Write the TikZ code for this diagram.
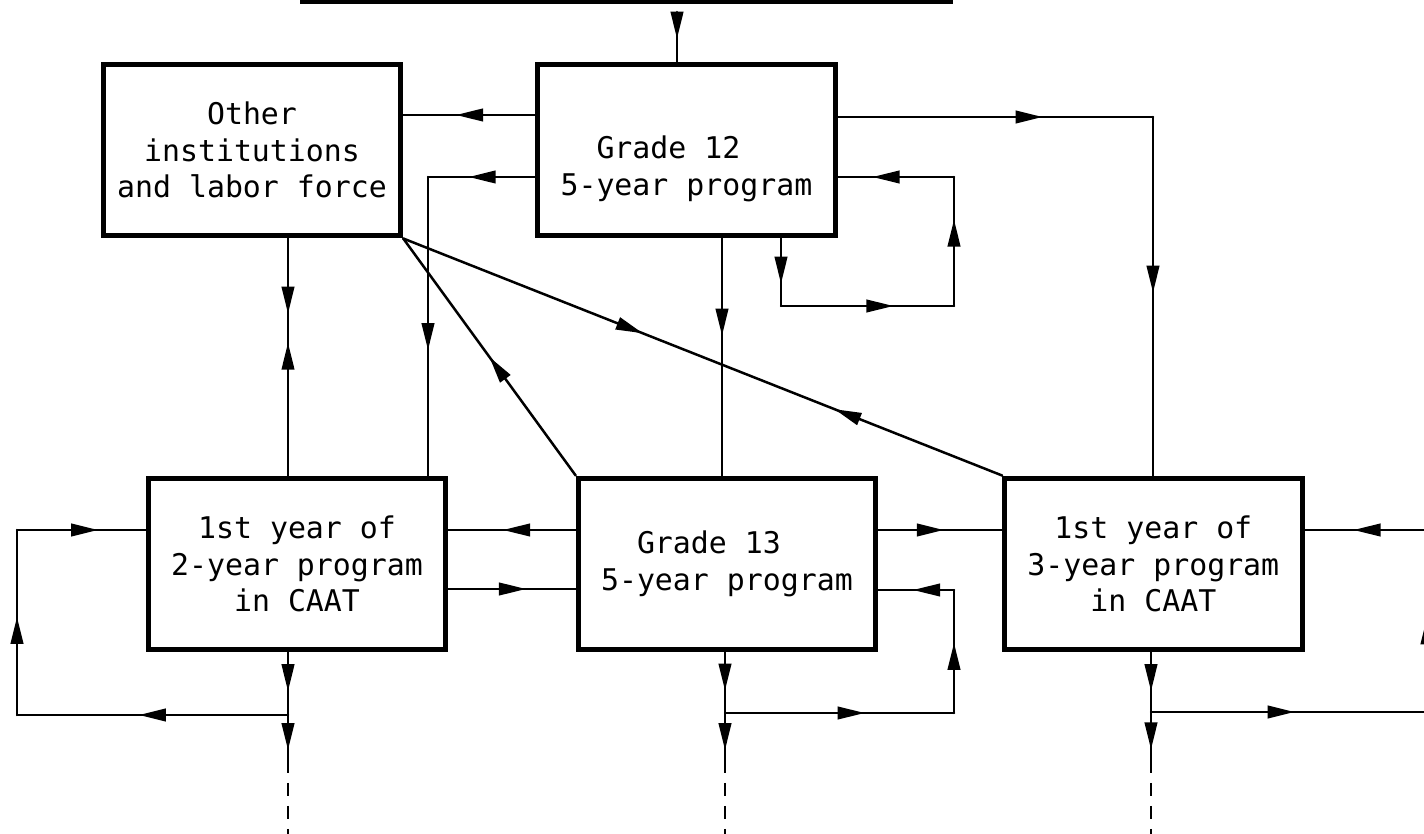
\documentclass[tikz,border=0pt]{standalone}
\usepackage{fontspec}
\setmonofont{DejaVu Sans Mono}
\usetikzlibrary{positioning,arrows.meta,decorations.markings,calc}

\begin{document}
\begin{tikzpicture}[
      x=0.02cm, y=-0.02cm,
      >={Triangle[length=0.54cm,width=0.25cm]},
      box/.style={draw,line width=0.1cm,minimum width=5.95cm,minimum height=3.44cm,inner sep=0pt,align=center,font=\ttfamily\fontsize{17}{20.8}\selectfont},
      flow/.style={line width=0.05cm,line cap=round,line join=round},
      arrowat/.style={postaction={decorate,decoration={markings,mark=at position #1 with {\arrow{>}}}}},
      cont/.style={line width=0.05cm,dash pattern=on 0.26cm off 0.2cm}
    ]
      \useasboundingbox (0,0) rectangle (1424,834);
      \node[box] (two) at (297,564) {1st year of\\2-year program\\in CAAT};
      \node[box,right=2.55cm of two] (g13) {Grade 13\hphantom{00}\\5-year program};
      \node[box,right=2.48cm of g13] (three) {1st year of\\3-year program\\in CAAT};
      \node[box] (other) at (252,150) {Other\\institutions\\and labor force};
      \node[box,right=2.64cm of other] (g12) {\rule{0pt}{1.2cm}Grade 12\hphantom{00}\\5-year program};

      \coordinate (barl) at (300,2);
      \coordinate (barr) at (953,2);
      \draw[line width=0.08cm] (barl) -- (barr);
      \coordinate (topin) at (677,12);
      \draw[flow,arrowat=0.54] (topin) -- (topin |- g12.north);

      \draw[flow,arrowat=0.6] (g12.west |- 0,115) -- (other.east |- 0,115);
      \coordinate (g12lo) at (428,177);
      \draw[flow,arrowat=0.62] (g12.west |- g12lo) -- (g12lo);
      \draw[flow,arrowat=0.58] (g12lo) -- (g12lo |- two.north);
      \coordinate (g12ro) at (1153,117);
      \draw[flow,arrowat=0.65] (g12.east |- g12ro) -- (g12ro);
      \draw[flow,arrowat=0.49] (g12ro) -- (g12ro |- three.north);

      \coordinate (lpa) at (781,306);
      \coordinate (lpb) at (954,306);
      \coordinate (lpc) at (954,177);
      \draw[flow,arrowat=0.67] (lpa |- g12.south) -- (lpa);
      \draw[flow,arrowat=0.65] (lpa) -- (lpb);
      \draw[flow,arrowat=0.67] (lpb) -- (lpc);
      \draw[flow,arrowat=0.7] (lpc) -- (g12.east |- lpc);
      \draw[flow,arrowat=0.41] (g12.south -| 722,0) -- (g13.north -| 722,0);

      \coordinate (omid) at (288,328);
      \draw[flow,arrowat=0.84] (other.south -| omid) -- (omid);
      \draw[flow,arrowat=0.9] (two.north -| omid) -- (omid);
      \draw[flow,arrowat=0.5] (g13.north west) -- (other.south east);
      \coordinate (dmid) at ($(other.south east)!0.5!(three.north west)$);
      \draw[flow,arrowat=0.8] (other.south east) -- (dmid);
      \draw[flow,arrowat=0.56] (three.north west) -- (dmid);

      \draw[flow,arrowat=0.57] (g13.west |- 0,530) -- (two.east |- 0,530);
      \draw[flow,arrowat=0.61] (two.east |- 0,589) -- (g13.west |- 0,589);
      \draw[flow,arrowat=0.53] (g13.east |- 0,530) -- (three.west |- 0,530);

      \coordinate (gb) at (725,713);
      \coordinate (gc) at (954,713);
      \coordinate (gd) at (954,590);
      \coordinate (ge) at (725,760);
      \coordinate (gf) at (725,834);
      \draw[flow,arrowat=0.63] (g13.south -| gb) -- (gb);
      \draw[flow,arrowat=0.61] (gb) -- (gc);
      \draw[flow,arrowat=0.57] (gc) -- (gd);
      \draw[flow,arrowat=0.54] (gd) -- (g13.east |- gd);
      \draw[flow,arrowat=0.79] (gb) -- (ge);
      \draw[cont] (ge) -- (gf);

      \coordinate (tb) at (288,715);
      \coordinate (tc) at (17,715);
      \coordinate (td) at (17,530);
      \coordinate (te) at (288,760);
      \coordinate (tf) at (288,834);
      \draw[flow,arrowat=0.62] (two.south -| tb) -- (tb);
      \draw[flow,arrowat=0.55] (tb) -- (tc);
      \draw[flow,arrowat=0.53] (tc) -- (td);
      \draw[flow,arrowat=0.63] (td) -- (two.west |- td);
      \draw[flow,arrowat=0.78] (tb) -- (te);
      \draw[cont] (te) -- (tf);

      \coordinate (tin) at (1427,530);
      \coordinate (hb) at (1151,712);
      \coordinate (hc) at (1427,712);
      \coordinate (he) at (1151,760);
      \coordinate (hf) at (1151,834);
      \draw[flow,arrowat=0.52] (hc) -- (tin);
      \draw[flow,arrowat=0.6] (tin) -- (three.east |- tin);
      \draw[flow,arrowat=0.65] (three.south -| hb) -- (hb);
      \draw[flow,arrowat=0.52] (hb) -- (hc);
      \draw[flow,arrowat=0.78] (hb) -- (he);
      \draw[cont] (he) -- (hf);
    \end{tikzpicture}
\end{document}
